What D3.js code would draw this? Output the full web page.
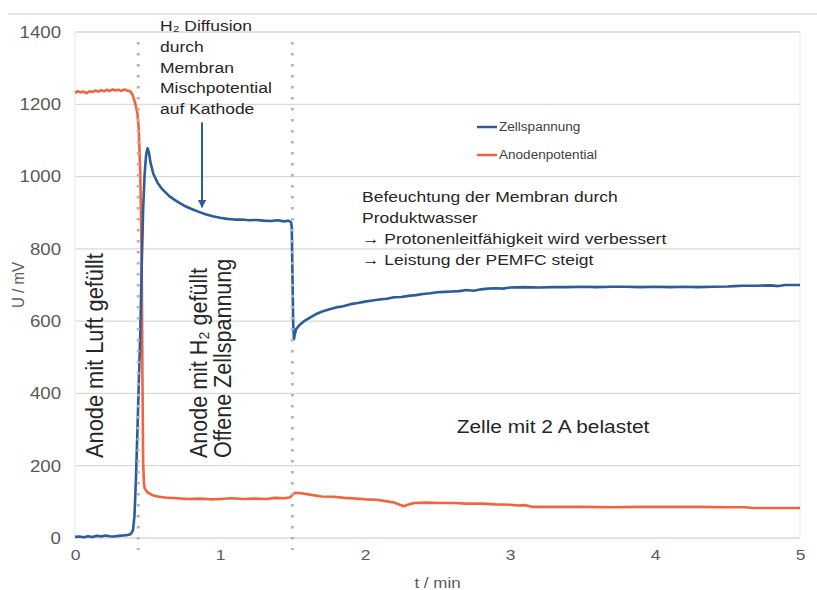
<!DOCTYPE html>
<html><head><meta charset="utf-8">
<script src="https://cdn.jsdelivr.net/npm/d3@7"></script>
<style>
html,body{margin:0;padding:0;background:#fff;}
svg{display:block;font-family:"Liberation Sans",Arial,sans-serif;}
</style></head>
<body><svg id="c" width="817" height="590"></svg>
<script>
// ---- data ----
const anodeTime = [0.00,0.02,0.04,0.06,0.08,0.10,0.12,0.14,0.16,0.18,0.20,0.22,0.24,0.26,0.28,0.30,0.32,0.34,0.36,0.38,0.395,0.41,0.42,0.43,0.44,0.45,0.455,0.46,0.465,0.47,0.475,0.48,0.50,0.53,0.57,0.62,0.70,0.78,0.86,0.94,1.00,1.08,1.16,1.24,1.32,1.38,1.44,1.48,1.50,1.52,1.56,1.62,1.70,1.78,1.86,1.94,2.00,2.08,2.14,2.20,2.24,2.27,2.30,2.34,2.42,2.52,2.62,2.70,2.80,2.90,3.00,3.06,3.10,3.16,3.30,3.50,3.70,3.90,4.10,4.30,4.50,4.62,4.68,4.80,5.00];
const anodenpotential = [1232,1236,1233,1235,1231,1236,1234,1238,1235,1239,1236,1240,1237,1241,1238,1240,1237,1241,1238,1236,1228,1210,1195,1176,1130,1010,900,760,450,210,155,138,126,119,115,112,110,108,109,107,108,110,108,109,108,111,110,112,119,125,124,120,115,114,111,109,107,106,102,98,92,88,93,97,98,97,97,95,95,93,92,90,91,86,86,86,85,86,86,86,85,85,83,83,83];

const cellTime = [0.00,0.03,0.06,0.09,0.12,0.15,0.18,0.21,0.24,0.27,0.30,0.33,0.36,0.38,0.39,0.40,0.41,0.42,0.43,0.44,0.45,0.46,0.47,0.48,0.49,0.50,0.51,0.52,0.54,0.57,0.60,0.65,0.70,0.75,0.80,0.85,0.90,0.95,1.00,1.05,1.10,1.15,1.20,1.25,1.30,1.35,1.40,1.44,1.47,1.49,1.495,1.50,1.505,1.51,1.515,1.525,1.55,1.58,1.62,1.66,1.70,1.75,1.80,1.85,1.90,1.95,2.00,2.05,2.10,2.15,2.20,2.25,2.30,2.35,2.40,2.45,2.50,2.55,2.60,2.65,2.70,2.75,2.80,2.85,2.90,2.95,3.00,3.10,3.20,3.30,3.40,3.50,3.60,3.70,3.80,3.90,4.00,4.10,4.20,4.30,4.40,4.50,4.55,4.60,4.70,4.80,4.85,4.90,5.00];
const zellspannung = [3,4,2,5,3,6,4,7,5,4,6,7,8,10,14,22,60,160,290,430,570,750,910,1005,1058,1078,1066,1040,1008,982,966,946,932,920,911,903,896,890,886,883,881,881,879,880,878,877,879,876,878,874,860,720,590,550,562,578,590,600,610,619,626,632,638,641,647,650,654,657,660,662,666,667,670,672,675,677,680,681,682,683,686,684,688,690,691,690,693,694,693,694,694,695,694,695,695,694,695,694,695,694,695,696,697,698,698,699,697,700,700];

const yTicks = [0,200,400,600,800,1000,1200,1400];
const xTicks = [0,1,2,3,4,5];
const phaseBounds = [0.436, 1.499];
const seriesNames = ["Zellspannung","Anodenpotential"];
const colors = {Zellspannung:"#2b5c9c", Anodenpotential:"#f2643c"};

// ---- chart ----
const svg = d3.select("#c");
const x = d3.scaleLinear().domain([0,5]).range([75,800]);
const y = d3.scaleLinear().domain([0,1400]).range([538,32]);
const SX = 1.13; // horizontal text stretch of the original

// frame line at top
svg.append("line").attr("x1",8).attr("x2",817).attr("y1",14).attr("y2",14)
  .attr("stroke","#e4e4e4").attr("stroke-width",2);

// gridlines
svg.append("g").selectAll("line").data(yTicks).join("line")
  .attr("x1",x(0)).attr("x2",x(5)).attr("y1",d=>y(d)).attr("y2",d=>y(d))
  .attr("stroke","#d9d9d9").attr("stroke-width",1.3);
svg.append("g").selectAll("line").data([0,5]).join("line")
  .attr("x1",d=>x(d)).attr("x2",d=>x(d)).attr("y1",y(1400)).attr("y2",y(0))
  .attr("stroke","#ececec").attr("stroke-width",1.2);

// axes (labels only)
const yAxis = svg.append("g").attr("transform",`translate(${x(0)-14},0)`)
  .call(d3.axisLeft(y).tickValues(yTicks).tickSize(0).tickPadding(0).tickFormat(d3.format("d")));
yAxis.select(".domain").remove();
yAxis.selectAll("text").attr("font-size",16.5).attr("fill","#595959")
  .attr("font-family","Liberation Sans, Arial, sans-serif")
  .attr("x",0).attr("transform",`scale(${SX},1)`);
const xAxis = svg.append("g").attr("transform",`translate(0,${y(0)+11})`)
  .call(d3.axisBottom(x).tickValues(xTicks).tickSize(0).tickPadding(0).tickFormat(d3.format("d")));
xAxis.select(".domain").remove();
xAxis.selectAll("text").attr("font-size",15.5).attr("fill","#595959").attr("dy","0.71em")
  .attr("font-family","Liberation Sans, Arial, sans-serif").attr("transform",`scale(${SX},1)`);

// axis titles
svg.append("text").attr("transform",`translate(24,${(y(0)+y(1400))/2}) scale(${SX},1) rotate(-90)`)
  .attr("text-anchor","middle").attr("font-size",15).attr("fill","#595959").text("U / mV");
svg.append("text").attr("transform",`translate(${(x(0)+x(5))/2},588) scale(${SX},1)`)
  .attr("text-anchor","middle").attr("font-size",15).attr("fill","#595959").text("t / min");

// series
const line = d3.line().x(d=>x(d[0])).y(d=>y(d[1]));
const anodeData = anodeTime.map((t,i)=>[t,anodenpotential[i]]);
const cellData = cellTime.map((t,i)=>[t,zellspannung[i]]);
svg.append("path").datum(anodeData).attr("d",line).attr("fill","none")
  .attr("stroke",colors.Anodenpotential).attr("stroke-width",2.6).attr("stroke-linejoin","round");
svg.append("path").datum(cellData).attr("d",line).attr("fill","none")
  .attr("stroke",colors.Zellspannung).attr("stroke-width",2.6).attr("stroke-linejoin","round");

// phase boundaries (dotted)
svg.append("g").selectAll("line").data(phaseBounds).join("line")
  .attr("x1",d=>x(d)).attr("x2",d=>x(d)).attr("y1",42).attr("y2",550)
  .attr("stroke","#b4b4b4").attr("stroke-width",3).attr("stroke-dasharray","2.5,8.5");

// arrow
svg.append("defs").append("marker").attr("id","ah").attr("viewBox","0 0 10 10")
  .attr("refX",9).attr("refY",5).attr("markerWidth",4).attr("markerHeight",4).attr("orient","auto")
  .append("path").attr("d","M0,0L10,5L0,10z").attr("fill",colors.Zellspannung);
svg.append("line").attr("x1",x(0.876)).attr("x2",x(0.876)).attr("y1",y(1150)).attr("y2",y(915))
  .attr("stroke",colors.Zellspannung).attr("stroke-width",2).attr("marker-end","url(#ah)");

// legend
const leg = svg.append("g");
seriesNames.forEach((n,i)=>{
  const yy = 127 + i*28;
  leg.append("line").attr("x1",477).attr("x2",497).attr("y1",yy).attr("y2",yy)
    .attr("stroke",colors[n]).attr("stroke-width",2.5);
  leg.append("text").attr("transform",`translate(499,${yy}) scale(${SX},1)`).attr("dy","0.35em")
    .attr("font-size",12).attr("fill","#404040").text(n);
});

// annotations
function textBlock(lines, x0, y0, lh, size){
  const g = svg.append("g").attr("transform",`translate(${x0},${y0}) scale(${SX},1)`);
  lines.forEach((l,i)=>g.append("text").attr("y",i*lh).attr("font-size",size).attr("fill","#262626").text(l));
}
textBlock(["H\u2082 Diffusion","durch","Membran","Mischpotential","auf Kathode"],160,31,20.8,15.5);
textBlock(["Befeuchtung der Membran durch","Produktwasser","\u2192 Protonenleitfähigkeit wird verbessert","\u2192 Leistung der PEMFC steigt"],362,202,21,15.5);
svg.append("text").attr("transform",`translate(553,433) scale(${SX},1)`).attr("text-anchor","middle")
  .attr("font-size",18.5).attr("fill","#262626").text("Zelle mit 2 A belastet");

function vText(lines, xb, yb, lh, size){
  const g = svg.append("g").attr("transform",`translate(${xb},${yb}) scale(${SX},1) rotate(-90)`);
  lines.forEach((l,i)=>g.append("text").attr("y",i*lh/SX).attr("font-size",size).attr("fill","#262626").text(l));
}
vText(["Anode mit Luft gefüllt"],103,458,24,21.8);
vText(["Anode mit H\u2082 gefüllt","Offene Zellspannung"],207,458,24,21.5);
</script></body></html>
